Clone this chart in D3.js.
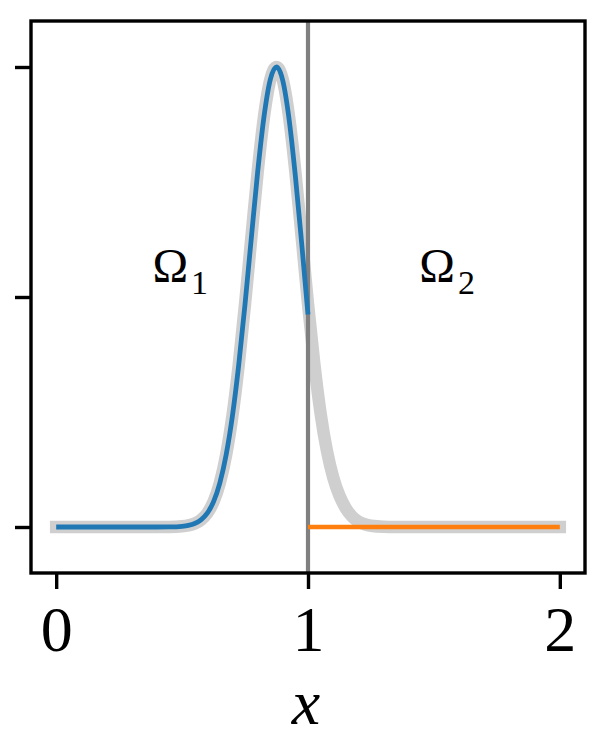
<!DOCTYPE html>
<html>
<head>
<meta charset="utf-8">
<script src="https://cdn.jsdelivr.net/npm/d3@7"></script>
<style>
  html, body { margin: 0; padding: 0; background: #fff; }
  svg { display: block; }
</style>
</head>
<body>
<div id="chart"></div>
<script>
// ---------- data ----------
const xTicks = [0, 1, 2];
const xTickLabels = ["0", "1", "2"];
const yTicks = [0, 0.5, 1];

// reference profile (thick light-grey curve), x in [0,2]
const refX = [0, 0.1, 0.2, 0.3, 0.4, 0.45, 0.5, 0.525, 0.55, 0.575, 0.6, 0.625, 0.65, 0.675, 0.7, 0.725, 0.75, 0.775, 0.8, 0.825, 0.85, 0.875, 0.9, 0.925, 0.95, 0.975, 1.0, 1.025, 1.05, 1.075, 1.1, 1.125, 1.15, 1.175, 1.2, 1.225, 1.25, 1.3, 1.35, 1.4, 1.5, 1.6, 1.7, 1.8, 1.9, 2.0];
const refY = [0, 0, 0, 0, 0.00003, 0.0002, 0.0015, 0.0034, 0.0075, 0.0155, 0.030, 0.055, 0.096, 0.157, 0.242, 0.353, 0.485, 0.629, 0.771, 0.891, 0.972, 1.0, 0.972, 0.891, 0.771, 0.629, 0.485, 0.355, 0.247, 0.166, 0.108, 0.068, 0.041, 0.023, 0.012, 0.006, 0.0027, 0.0005, 0.00007, 0, 0, 0, 0, 0, 0, 0];

// solution on Omega_1 (blue), x in [0,1]
const s1X = [0, 0.1, 0.2, 0.3, 0.4, 0.45, 0.5, 0.525, 0.55, 0.575, 0.6, 0.625, 0.65, 0.675, 0.7, 0.725, 0.75, 0.775, 0.8, 0.825, 0.85, 0.875, 0.9, 0.925, 0.95, 0.975, 1.0];
const s1Y = [0, 0, 0, 0, 0.00003, 0.0002, 0.0015, 0.0034, 0.0075, 0.0155, 0.030, 0.055, 0.096, 0.157, 0.242, 0.353, 0.485, 0.629, 0.771, 0.891, 0.972, 1.0, 0.970, 0.886, 0.762, 0.616, 0.462];

// solution on Omega_2 (orange), x in [1,2]
const s2X = [1.0, 1.25, 1.5, 1.75, 2.0];
const s2Y = [0, 0, 0, 0, 0];

// interface position
const interfaceX = [1];

// region labels
const regionNames = ["Ω", "Ω"];
const regionSubs = ["1", "2"];
const regionX = [0.39, 1.45];
const regionY = [0.535, 0.535];

// ---------- layout ----------
const W = 600, H = 756;
const mLeft = 31, mRight = 585, mTop = 21, mBottom = 573;

const x = d3.scaleLinear().domain([-0.1, 2.1]).range([mLeft, mRight]);
const y = d3.scaleLinear().domain([-0.1, 1.1]).range([mBottom, mTop]);

const svg = d3.select("#chart").append("svg")
  .attr("width", W).attr("height", H)
  .attr("viewBox", `0 0 ${W} ${H}`);

svg.append("defs").append("clipPath").attr("id", "clip")
  .append("rect").attr("x", mLeft).attr("y", mTop)
  .attr("width", mRight - mLeft).attr("height", mBottom - mTop);

const plot = svg.append("g").attr("clip-path", "url(#clip)");

const line = d3.line().x(d => x(d[0])).y(d => y(d[1])).curve(d3.curveMonotoneX);

// reference (thick light grey)
plot.append("path")
  .datum(refX.map((v, i) => [v, refY[i]]))
  .attr("d", line)
  .attr("fill", "none")
  .attr("stroke", "#cfcfcf")
  .attr("stroke-width", 12.5)
  .attr("stroke-linecap", "square")
  .attr("stroke-linejoin", "round");

// interface line
plot.selectAll(".vline").data(interfaceX).enter().append("line")
  .attr("x1", d => x(d)).attr("x2", d => x(d))
  .attr("y1", mTop).attr("y2", mBottom)
  .attr("stroke", "#808080").attr("stroke-width", 4.2);

// blue solution
plot.append("path")
  .datum(s1X.map((v, i) => [v, s1Y[i]]))
  .attr("d", line)
  .attr("fill", "none")
  .attr("stroke", "#1f77b4")
  .attr("stroke-width", 4.8)
  .attr("stroke-linecap", "butt")
  .attr("stroke-linejoin", "round");

// orange solution
plot.append("path")
  .datum(s2X.map((v, i) => [v, s2Y[i]]))
  .attr("d", line)
  .attr("fill", "none")
  .attr("stroke", "#ff7f0e")
  .attr("stroke-width", 4.5)
  .attr("stroke-linecap", "butt");

// ---------- axes ----------
const xAxis = svg.append("g")
  .attr("transform", `translate(0,${mBottom})`)
  .call(d3.axisBottom(x).tickValues(xTicks).tickSize(16)
        .tickFormat((d, i) => xTickLabels[i]));
xAxis.select(".domain").remove();
xAxis.selectAll(".tick line").attr("stroke", "#000").attr("stroke-width", 3.4);
xAxis.selectAll(".tick text")
  .attr("y", 78).attr("dy", 0)
  .attr("fill", "#000")
  .style("font-family", "'Liberation Serif', 'DejaVu Serif', serif")
  .style("font-size", "64px");

const yAxis = svg.append("g")
  .attr("transform", `translate(${mLeft},0)`)
  .call(d3.axisLeft(y).tickValues(yTicks).tickSize(16).tickFormat(""));
yAxis.select(".domain").remove();
yAxis.selectAll(".tick line").attr("stroke", "#000").attr("stroke-width", 3.4);

// frame
svg.append("rect")
  .attr("x", mLeft).attr("y", mTop)
  .attr("width", mRight - mLeft).attr("height", mBottom - mTop)
  .attr("fill", "none").attr("stroke", "#000").attr("stroke-width", 3.4);

// x label
svg.append("text")
  .attr("x", (mLeft + mRight) / 2 - 2).attr("y", 724)
  .attr("text-anchor", "middle")
  .style("font-family", "'Liberation Serif', 'DejaVu Serif', serif")
  .style("font-style", "italic")
  .style("font-size", "64px")
  .text("x");

// region labels
regionNames.forEach((nm, i) => {
  const t = svg.append("text")
    .attr("x", x(regionX[i]) - 2).attr("y", y(regionY[i]) + 1)
    .style("font-family", "'Liberation Serif', 'DejaVu Serif', serif")
    .style("font-size", "48px");
  t.append("tspan").text(nm);
  t.append("tspan").attr("dx", 3).attr("dy", 12).style("font-size", "34px").text(regionSubs[i]);
});
</script>
</body>
</html>
